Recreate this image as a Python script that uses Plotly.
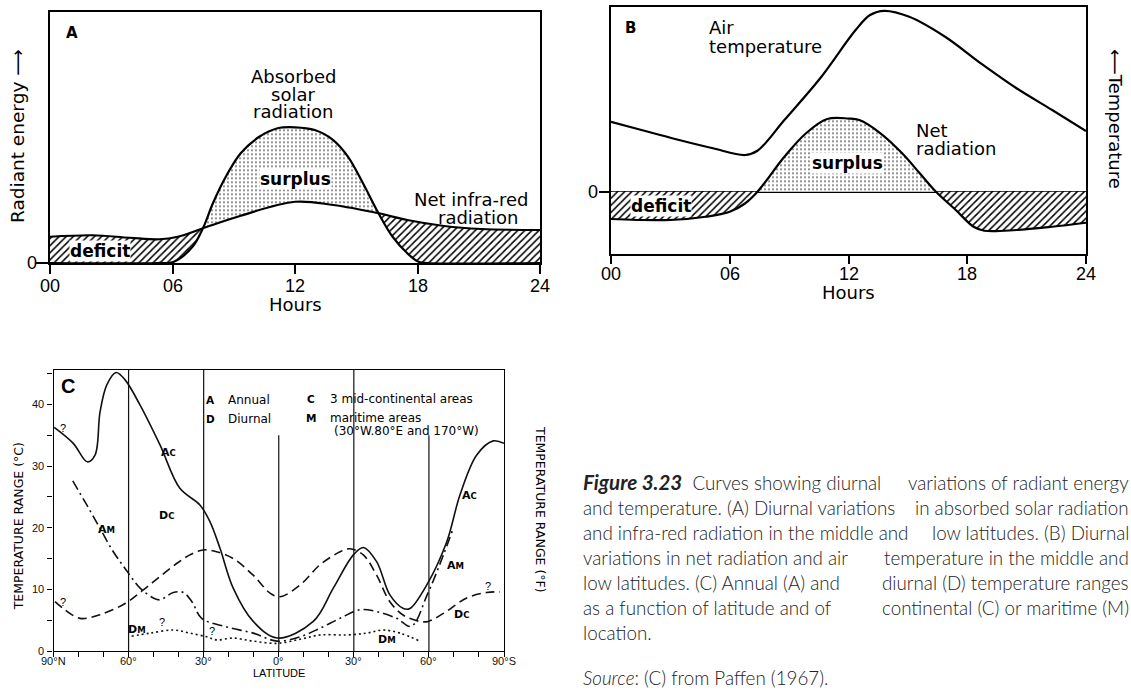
import plotly.graph_objects as go

W, H = 1131, 693

# ---------------- Panel A data (hours, arbitrary radiant-energy units) ----------------
solar_hours = [0, 5.26, 6.07, 6.98, 7.49, 7.98, 8.61, 9.34, 10.25, 11.15, 12.0, 12.97,
               13.87, 14.6, 15.33, 16.09, 16.78, 17.5, 18.05, 18.5, 24]
solar_vals = [0, 0, 0.5, 6.5, 13.9, 23.9, 34.5, 43.9, 50.5, 53.9, 54.3, 53.2,
              49.2, 42.5, 31.9, 19.9, 10.5, 3.9, 0.5, 0, 0]
ir_hours = [0, 2.09, 3.9, 5.35, 6.26, 7.49, 9.34, 12.0, 13.87, 16.09, 17.5, 19.31, 21.13, 24]
ir_vals = [10.5, 11.1, 10.1, 9.5, 10.5, 13.9, 18.9, 24.5, 23.2, 19.9, 17.2, 14.8, 13.6, 13.2]
cross_a = [7.49, 16.09]

# ---------------- Panel B data ----------------
net_hours = [0, 2.98, 4.79, 6.0, 6.77, 7.40, 8.76, 9.84, 10.92, 12.0, 12.55, 13.63, 14.71,
             15.61, 16.42, 17.42, 18.32, 18.86, 20.49, 22.29, 24]
net_vals = [-10.9, -11.3, -10.0, -8.0, -4.7, 0, 14, 23.3, 29.1, 29.3, 28.7, 23.3, 15.4,
            7.3, 0, -7.3, -14, -15.6, -15.3, -14, -12.4]
air_hours = [0, 1.54, 3.34, 5.15, 6.77, 7.4, 8.76, 10.56, 12.36, 13.09, 13.81, 15.07,
             16.88, 18.68, 20.49, 22.29, 24]
air_vals = [28, 24.7, 20.9, 17.4, 14.7, 16.4, 28.7, 45.3, 64.7, 70.7, 72.4, 70,
            62, 51.4, 41.4, 32.7, 24.3]
cross_b = [7.40, 16.42]

hour_ticks = [0, 6, 12, 18, 24]
hour_labels = ["00", "06", "12", "18", "24"]

# ---------------- Panel C data (latitude: + north, - south; temperature range in deg C) ----------------
ac_lat = [89.7, 82.1, 76.5, 73.4, 71.4, 68.7, 65.0, 61.4, 55.4, 47.4, 39.5, 31.5, 27.5, 23.5,
          18.2, 10.2, 0.6, -13.8, -21.8, -29.8, -33.8, -39.1, -44.4, -49.8, -52.4, -59.1,
          -67.1, -72.4, -79.1, -85.7, -90]
ac_val = [36.3, 33.7, 30.7, 31.8, 38.8, 43.2, 45.2, 44.0, 39.9, 33.4, 26.4, 23.7, 21.0, 16.7,
          10.2, 4.8, 2.1, 4.8, 10.2, 15.6, 16.8, 14.5, 9.1, 6.9, 6.9, 10.7,
          17.7, 25.3, 31.8, 34.1, 33.7]
am_lat = [82.3, 76.7, 71.4, 66.1, 61.4, 55.4, 50.1, 47.4, 42.1, 38.1, 34.7, 30.8, 20.8, 10.2,
          0.6, -8.5, -16.5, -24.5, -32.5, -39.1, -47.1, -52.9, -59.3, -65.8, -69.7]
am_val = [27.6, 23.7, 19.9, 16.1, 13.4, 10.2, 8.6, 8.3, 9.5, 9.5, 8.0, 5.3, 3.9, 2.9,
          1.6, 2.3, 3.7, 5.3, 6.7, 6.4, 5.3, 4.0, 9.1, 15.6, 19.9]
dc_lat = [89.4, 86.1, 79.4, 71.4, 61.4, 54.1, 47.4, 40.8, 35.5, 30.2, 24.8, 18.2, 10.2, 3.5,
          -0.5, -8.5, -16.5, -24.5, -28.4, -33.8, -39.1, -44.4, -49.8, -56.4, -59.7, -65.8,
          -75.1, -83.1, -88.4]
dc_val = [8.0, 6.9, 5.3, 5.9, 7.7, 9.9, 12.1, 14.2, 15.6, 16.4, 16.1, 15.0, 12.3, 9.4,
          8.8, 10.7, 14.0, 16.1, 16.6, 15.6, 12.3, 8.0, 5.8, 4.8, 4.8, 6.1,
          8.6, 9.5, 9.6]
dm_lat = [58.8, 51.4, 42.1, 35.5, 28.8, 24.8, 18.2, 10.2, 0.6, -8.5, -16.5, -27.1, -35.1,
          -41.8, -48.4, -56.4]
dm_val = [2.4, 2.9, 3.4, 2.9, 2.3, 1.8, 2.1, 1.6, 1.25, 1.9, 2.6, 2.6, 2.9,
          3.4, 2.9, 1.6]

lat_tick_vals = [90, 80, 70, 60, 50, 40, 30, 20, 10, 0, -10, -20, -30, -40, -50, -60, -70, -80, -90]
lat_tick_text = ["90°N", "", "", "60°", "", "", "30°", "", "", "0°", "", "", "30°", "", "", "60°", "", "", "90°S"]
c_tick_vals = [0, 5, 10, 15, 20, 25, 30, 35, 40, 45]
c_tick_text = ["0", "", "10", "", "20", "", "30", "", "40", ""]
f_tick_vals = [0, 10, 20, 30, 40, 50, 60, 70, 80]
f_tick_text = ["0", "10", "20", "30", "40", "50", "60", "70", "80"]
grid_lats = [60, 30, 0, -30, -60]
grid_tops = [45.6, 45.6, 35.0, 45.6, 35.0]

# ---------------- helpers ----------------
def seg(hours, vals, a, b):
    hh, vv = [], []
    for h, v in zip(hours, vals):
        if a - 1e-9 <= h <= b + 1e-9:
            hh.append(h)
            vv.append(v)
    return hh, vv

def PX(x):
    return x / W

def PY(y):
    return 1 - y / H

HATCH = dict(shape="/", size=5, solidity=0.3, fgcolor="black", bgcolor="white", fillmode="replace")
DOTS = dict(shape=".", size=4, solidity=0.12, fgcolor="black", bgcolor="white", fillmode="replace")

fig = go.Figure()

def ghost(x, y, xa, ya, fill=None, pattern=None):
    kw = {}
    if fill:
        kw = dict(fill=fill, fillpattern=pattern, fillcolor="white")
    fig.add_trace(go.Scatter(x=x, y=y, mode="lines", line=dict(width=0, shape="spline", color="rgba(0,0,0,0)"),
                             xaxis=xa, yaxis=ya, showlegend=False, hoverinfo="skip", **kw))

# Panel A fills
a0, a1 = cross_a
h, v = seg(solar_hours, solar_vals, 0, a0); ghost(h, v, "x", "y")
h, v = seg(ir_hours, ir_vals, 0, a0); ghost(h, v, "x", "y", "tonexty", HATCH)
h, v = seg(ir_hours, ir_vals, a0, a1); ghost(h, v, "x", "y")
h, v = seg(solar_hours, solar_vals, a0, a1); ghost(h, v, "x", "y", "tonexty", DOTS)
h, v = seg(solar_hours, solar_vals, a1, 24); ghost(h, v, "x", "y")
h, v = seg(ir_hours, ir_vals, a1, 24); ghost(h, v, "x", "y", "tonexty", HATCH)
for xs, ys in [(solar_hours, solar_vals), (ir_hours, ir_vals)]:
    fig.add_trace(go.Scatter(x=xs, y=ys, mode="lines", line=dict(color="black", width=2.2, shape="spline"),
                             xaxis="x", yaxis="y", showlegend=False, hoverinfo="skip"))

# Panel B fills
b0, b1 = cross_b
h, v = seg(net_hours, net_vals, 0, b0); ghost(h, v, "x2", "y2", "tozeroy", HATCH)
h, v = seg(net_hours, net_vals, b0, b1); ghost(h, v, "x2", "y2", "tozeroy", DOTS)
h, v = seg(net_hours, net_vals, b1, 24); ghost(h, v, "x2", "y2", "tozeroy", HATCH)
for xs, ys in [(net_hours, net_vals), (air_hours, air_vals)]:
    fig.add_trace(go.Scatter(x=xs, y=ys, mode="lines", line=dict(color="black", width=2.2, shape="spline"),
                             xaxis="x2", yaxis="y2", showlegend=False, hoverinfo="skip"))

# Panel C curves
for xs, ys, dash in [(ac_lat, ac_val, "solid"), (am_lat, am_val, "10px,4px,2px,4px"),
                     (dc_lat, dc_val, "9px,5px"), (dm_lat, dm_val, "2px,3px")]:
    fig.add_trace(go.Scatter(x=xs, y=ys, mode="lines",
                             line=dict(color="#111", width=1.6, shape="spline", dash=dash),
                             xaxis="x3", yaxis="y3", showlegend=False, hoverinfo="skip"))

shapes = []
for lat, top in zip(grid_lats, grid_tops):
    shapes.append(dict(type="line", xref="x3", yref="y3", x0=lat, x1=lat, y0=0, y1=top,
                       line=dict(color="#111", width=1.2), layer="below"))

NUM = "Liberation Sans"
WORD = "DejaVu Sans"

def ax_common(**kw):
    d = dict(showline=True, linecolor="black", mirror=True, showgrid=False, zeroline=False,
             ticks="outside", tickcolor="black", automargin=False, fixedrange=True)
    d.update(kw)
    return d

layout = dict(
    width=W, height=H, autosize=False,
    margin=dict(l=0, r=0, t=0, b=0, pad=0),
    paper_bgcolor="white", plot_bgcolor="rgba(0,0,0,0)",
    showlegend=False, hovermode=False,
    xaxis=ax_common(domain=[PX(50), PX(540)], range=[0, 24], anchor="y", tickvals=hour_ticks,
                    showticklabels=False, ticklen=9, tickwidth=1.5, linewidth=1.6),
    yaxis=ax_common(domain=[PY(263), PY(12.3)], range=[0, 100.3], anchor="x", tickvals=[0],
                    showticklabels=False, ticklen=12, tickwidth=1.5, linewidth=1.6),
    xaxis2=ax_common(domain=[PX(611), PX(1086)], range=[0, 24], anchor="y2", tickvals=hour_ticks,
                     showticklabels=False, ticklen=8, tickwidth=1.5, linewidth=1.6),
    yaxis2=ax_common(domain=[PY(254), PY(7.3)], range=[-24.9, 73.8], anchor="x2", tickvals=[0],
                     showticklabels=False, ticklen=10, tickwidth=1.5, linewidth=1.6,
                     zeroline=True, zerolinecolor="black", zerolinewidth=1.6),
    xaxis3=ax_common(domain=[PX(53.5), PX(504)], range=[90, -90], anchor="y3", tickvals=lat_tick_vals,
                     showticklabels=False, ticklen=5, tickwidth=1.2, linewidth=1.2),
    yaxis3=ax_common(domain=[PY(651), PY(370)], range=[0, 45.6], anchor="x3", tickvals=c_tick_vals,
                     ticktext=c_tick_text, ticklen=5, tickwidth=1.2, linewidth=1.2,
                     tickfont=dict(family=NUM, size=11, color="#111"), ticklabelstandoff=1),
    yaxis4=ax_common(domain=[PY(651), PY(370)], range=[0, 80], anchor="x3", overlaying="y3", side="right",
                     tickvals=f_tick_vals, ticktext=f_tick_text, ticklen=5, tickwidth=1.2, linewidth=1.2,
                     mirror=False, tickfont=dict(family=NUM, size=11, color="#111"), ticklabelstandoff=2),
    shapes=shapes,
)

ann = []

def T(x, y, s, size=17, family=WORD, xa="center", ya="middle", angle=0, bg=None, color="black",
      xref="paper", yref="paper", weight=None):
    xx = PX(x) if xref == "paper" else x
    yy = PY(y) if yref == "paper" else y
    f = dict(family=family, size=size, color=color)
    if weight:
        f["weight"] = weight
    d = dict(x=xx, y=yy, xref=xref, yref=yref, text=s, showarrow=False,
             font=f, xanchor=xa, yanchor=ya, textangle=angle, borderpad=0)
    if bg:
        d["bgcolor"] = bg
    ann.append(d)

# Tick labels placed through the axes' own scales
for v, s in zip(hour_ticks, hour_labels):
    T(v, 286, s, size=18, family=NUM, xref="x")
    T(v, 274, s, size=18, family=NUM, xref="x2")
T(31.7, 0, "0", size=18, family=NUM, yref="y")
T(593, 0, "0", size=18, family=NUM, yref="y2")
for v, s in zip(lat_tick_vals, lat_tick_text):
    if s:
        T(v, 661, s, size=11, family=NUM, xref="x3", color="#111")

# Panel A texts
T(72, 33, "<b>A</b>", size=15)
T(293, 76, "Absorbed", size=18)
T(293, 94, "solar", size=18)
T(293, 111, "radiation", size=18)
T(295, 179, "<b>surplus</b>", bg="white")
T(471, 199, "Net infra-red", size=18)
T(478, 217, "radiation", size=18)
T(99.5, 251, "<b>deficit</b>", bg="white")
T(295, 304, "Hours", size=18)
T(18, 136, "Radiant energy ⟶", size=18.5, angle=-90)

# Panel B texts
T(630.5, 28, "<b>B</b>", size=15)
T(707.5, 27, "Air", size=18, xa="left")
T(707.5, 46, "temperature", size=18, xa="left")
T(914.6, 131, "Net", size=18, xa="left")
T(914.6, 149, "radiation", size=18, xa="left")
T(847, 163, "<b>surplus</b>", bg="white")
T(661, 206, "<b>deficit</b>", bg="white")
T(848, 292, "Hours", size=18)
T(1116, 119, "⟵Temperature", size=18, angle=90)

# Panel C texts
T(68, 386, "<b>C</b>", size=20, family=NUM)
for x, y in [(63.3, 428), (63.3, 602), (161.7, 622), (211.7, 631), (488.3, 586)]:
    T(x, y, "?", size=11, family=NUM)
small = "<span style='font-size:8.5px'>%s</span>"
for x, y, a, b in [(168.3, 452, "A", "C"), (106.7, 529, "A", "M"), (166.7, 515, "D", "C"),
                   (136.7, 629, "D", "M"), (469.3, 495, "A", "C"), (455, 565, "A", "M"),
                   (461.7, 614, "D", "C"), (387.3, 639, "D", "M")]:
    T(x, y, "<b>" + a + small % b + "</b>", size=11, family=WORD)
T(210.7, 400, "<b>A</b>", size=10.5)
T(210.7, 418.5, "<b>D</b>", size=10.5)
T(310.7, 398.5, "<b>C</b>", size=10.5)
T(310.7, 417.5, "<b>M</b>", size=10.5)
T(226.7, 400, "Annual", size=12, xa="left")
T(226.7, 418.5, "Diurnal", size=12, xa="left")
T(329.3, 398.5, "3 mid-continental areas", size=12, xa="left")
T(329.3, 417.5, "maritime areas", size=12, xa="left")
T(333, 431, "(30°W.80°E and 170°W)", size=12, xa="left")
T(279, 673, "LATITUDE", size=11, family=NUM)
T(18.3, 526, "TEMPERATURE RANGE (°C)", size=12.5, angle=-90)
T(541, 509, "TEMPERATURE RANGE (°F)", size=12.5, angle=90)

# Caption (each line: left part and right part, to mimic the justified block)
CAP = "Lato"
cap_lines = [
    ("<b><i><span style='font-size:20.5px'>Figure 3.23</span></i></b>  Curves showing diurnal", "variations of radiant energy"),
    ("and temperature. (A) Diurnal variations", "in absorbed solar radiation"),
    ("and infra-red radiation in the middle and", "low latitudes. (B) Diurnal"),
    ("variations in net radiation and air", "temperature in the middle and"),
    ("low latitudes. (C) Annual (A) and", "diurnal (D) temperature ranges"),
    ("as a function of latitude and of", "continental (C) or maritime (M)"),
    ("location.", ""),
]
y0 = 482
for i, (left, right) in enumerate(cap_lines):
    yy = y0 + 25 * i
    T(582, yy, left, size=18.8, family=CAP, xa="left", color="#222", weight=300)
    if right:
        T(1130, yy, right, size=18.8, family=CAP, xa="right", color="#222", weight=300)
T(582, 677, "<i>Source</i>: (C) from Paffen (1967).", size=18.8, family=CAP, xa="left", color="#222", weight=300)

layout["annotations"] = ann
fig.update_layout(**layout)
fig.write_html("out.html", config={"displayModeBar": False},
               post_script="document.body.style.margin='0px';document.body.style.overflow='hidden';")
